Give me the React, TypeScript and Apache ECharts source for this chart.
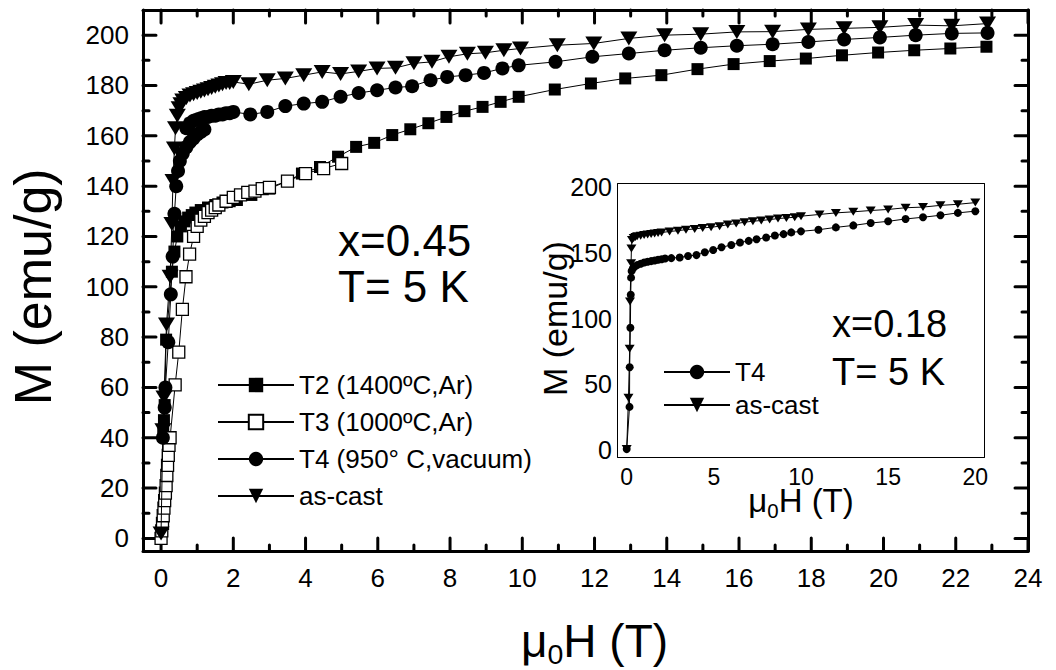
import React, { useEffect, useRef } from "react";
import * as echarts from "echarts";

// ---------- axis ranges & ticks ----------
const mainXRange = [-0.5, 24];
const mainYRange = [-5, 210];
const mainXTickRange = [0, 24];
const mainYTickRange = [0, 200];
const mainXInterval = 2;
const mainYInterval = 20;
const mainXMajor = [0, 2, 4, 6, 8, 10, 12, 14, 16, 18, 20, 22, 24];
const mainXMinor = [1, 3, 5, 7, 9, 11, 13, 15, 17, 19, 21, 23];
const mainYMajor = [0, 20, 40, 60, 80, 100, 120, 140, 160, 180, 200];
const mainYMinor = [10, 30, 50, 70, 90, 110, 130, 150, 170, 190];

const insetXRange = [-0.5, 20.5];
const insetYRange = [-5, 202];
const insetXTickRange = [0, 20];
const insetYTickRange = [0, 200];
const insetXInterval = 5;
const insetYInterval = 50;
const insetXMajor = [0, 5, 10, 15, 20];
const insetXMinor = [2.5, 7.5, 12.5, 17.5];
const insetYMajor = [0, 50, 100, 150, 200];
const insetYMinor = [25, 75, 125, 175];

// ---------- series names ----------
const mainNames = ["T2 (1400ºC,Ar)", "T3 (1000ºC,Ar)", "T4 (950° C,vacuum)", "as-cast"];
const insetNames = ["T4", "as-cast"];

// ---------- main plot data: [μ0H (T), M (emu/g)] ----------
const t2Data = [
  [0.06, 42], [0.08, 47], [0.1, 53], [0.14, 79], [0.3, 106], [0.37, 114], [0.45, 120],
  [0.55, 124], [0.65, 126], [0.75, 127.5], [0.85, 128.5], [0.95, 129.5], [1.1, 130.5],
  [1.3, 131.5], [1.5, 132.5], [1.7, 133.5], [1.9, 134], [2.1, 134.5], [2.5, 136.5],
  [3.0, 139], [3.5, 142], [3.9, 145], [4.4, 147.6], [4.9, 151.7], [5.4, 155.6],
  [5.9, 157.2], [6.4, 160.3], [6.9, 162.6], [7.4, 165], [7.9, 167.5], [8.4, 169.8],
  [8.9, 171.5], [9.4, 173.5], [9.9, 175.5], [10.9, 178.4], [11.9, 180.8], [12.85, 182.8],
  [13.85, 184.1], [14.85, 186.5], [15.85, 188.5], [16.85, 189.7], [17.85, 190.7],
  [18.85, 192], [19.85, 193.1], [20.85, 194], [21.85, 194.7], [22.85, 195.4],
];
const t3Data = [
  [0.0, 0], [0.02, 3], [0.04, 6], [0.06, 9], [0.08, 12], [0.1, 15], [0.12, 18], [0.14, 21],
  [0.16, 25], [0.18, 29], [0.2, 33], [0.22, 37], [0.25, 40], [0.39, 61], [0.49, 74],
  [0.59, 91], [0.69, 104], [0.79, 113], [0.9, 120], [1.0, 124], [1.1, 126.5], [1.2, 128],
  [1.3, 129.5], [1.4, 130.5], [1.5, 131.5], [1.6, 132.5], [1.8, 134], [2.0, 135.5],
  [2.2, 136.5], [2.4, 137.5], [2.6, 138], [2.8, 139], [3.0, 139.5], [3.5, 142], [4.0, 145],
  [4.5, 147], [5.0, 149],
];
const t4Data = [
  [0.05, 40], [0.1, 52], [0.12, 60], [0.2, 78], [0.27, 97], [0.32, 112], [0.37, 129],
  [0.42, 140], [0.47, 146], [0.52, 150], [0.6, 153], [0.7, 155.5], [0.8, 157.5], [0.9, 159],
  [1.0, 160.5], [1.1, 161.5], [1.2, 162.5], [0.7, 163], [0.8, 165], [0.9, 166], [1.0, 166.5],
  [1.1, 167], [1.2, 167.5], [1.3, 167.5], [1.4, 168], [1.5, 168], [1.6, 168.5], [1.7, 168.5],
  [1.8, 169], [1.9, 169], [2.0, 169.5], [2.47, 168.5], [2.94, 169.5], [3.44, 171.8],
  [3.95, 172.8], [4.46, 173.5], [4.97, 175.5], [5.47, 177], [5.98, 178.1], [6.49, 179.2],
  [6.95, 179.7], [7.46, 182.1], [7.92, 183.4], [8.43, 184.1], [8.94, 185], [9.45, 186.8],
  [9.9, 188], [10.92, 189.4], [11.94, 191.4], [12.95, 192.7], [13.94, 194], [14.94, 195],
  [15.94, 195.8], [16.93, 196.4], [17.92, 197.3], [18.91, 198.3], [19.9, 199.1],
  [20.89, 200], [21.89, 200.7], [22.88, 200.9],
];
const asCastData = [
  [0.0, 2], [0.05, 43], [0.08, 56], [0.15, 85], [0.25, 104], [0.3, 125], [0.33, 142],
  [0.37, 155], [0.4, 163], [0.45, 168], [0.5, 171], [0.55, 172.5], [0.6, 174], [0.7, 175],
  [0.8, 176], [0.9, 176.5], [1.0, 177], [1.1, 177.5], [1.2, 178], [1.3, 178.5], [1.4, 179],
  [1.5, 179.5], [1.6, 180], [1.7, 180.5], [1.8, 181], [1.9, 181], [2.0, 181.4],
  [2.43, 180.5], [2.94, 182.1], [3.44, 182.8], [3.95, 184.1], [4.46, 185.4], [4.97, 184.6],
  [5.47, 185.6], [5.98, 186.8], [6.49, 187], [7.0, 188.8], [7.5, 189.4], [7.97, 191.4],
  [8.48, 192.6], [8.98, 193], [9.49, 194], [9.95, 194.7], [10.97, 196], [11.98, 196.7],
  [12.95, 198.7], [13.94, 200], [14.94, 200.4], [15.94, 201.3], [16.93, 201.4],
  [17.92, 202.3], [18.91, 202.7], [19.9, 203.1], [20.89, 204], [21.89, 203.7], [22.88, 204.6],
];

// ---------- inset data (x = 0.18) ----------
const insetT4Data = [
  [0, 1], [0.16, 33], [0.17, 63], [0.21, 93], [0.23, 118], [0.25, 131], [0.28, 136],
  [0.35, 138], [0.45, 139.5], [0.6, 140.5], [0.8, 141.5], [1.0, 142.5], [1.2, 143],
  [1.4, 143.5], [1.6, 144], [1.8, 144.5], [2.0, 145], [2.2, 145.5], [2.56, 145.8],
  [3.04, 146.3], [3.52, 147.4], [4.0, 148.1], [4.48, 150.2], [4.96, 152], [5.44, 154],
  [6.0, 155.8], [6.5, 157.6], [7.0, 158.9], [7.45, 160.1], [8.0, 161.4], [8.5, 163],
  [9.0, 164], [9.44, 165.3], [10.0, 166.1], [11, 167.3], [12, 169.1], [13, 170.6],
  [14, 172.4], [15, 173.7], [16, 175.5], [17, 176.8], [18, 178.3], [19, 180.1], [20, 181.4],
];
const insetAsCastData = [
  [0, 1], [0.1, 40], [0.17, 77], [0.19, 113], [0.25, 142], [0.27, 153], [0.3, 159.5],
  [0.4, 161], [0.5, 161.8], [0.6, 162.3], [0.8, 162.8], [1.0, 163.3], [1.2, 163.7],
  [1.4, 164], [1.6, 164.4], [1.8, 164.8], [2.0, 165.2], [2.46, 166], [2.94, 166.6],
  [3.4, 167.4], [3.9, 167.9], [4.36, 168.7], [4.84, 169.2], [5.33, 170], [5.8, 171.2],
  [6.28, 172], [6.76, 173], [7.24, 173.8], [7.72, 174.3], [8.2, 175], [8.68, 175.8],
  [9.16, 176.3], [9.64, 176.8], [10, 177.6], [11.06, 178.9], [12, 180.1], [13, 180.9],
  [14, 181.9], [15, 182.7], [16, 184], [17, 184.5], [18, 185.8], [19, 186.6], [20, 187.9],
];

const FONT = "'Liberation Sans', Arial, Helvetica, sans-serif";
const DOWN_TRI = "path://M0,0L20,0L10,17Z";

type Box = { left: number; top: number; width: number; height: number };

function frameAxes(dim: "x" | "y", gridIndex: number, range: number[], lw: number) {
  const sides = dim === "x" ? ["bottom", "top"] : ["left", "right"];
  return sides.map((pos) => ({
    type: "value",
    gridIndex,
    position: pos,
    min: range[0],
    max: range[1],
    splitLine: { show: false },
    axisLine: { show: true, onZero: false, lineStyle: { color: "#000", width: lw } },
    axisTick: { show: false },
    axisLabel: { show: false },
  }));
}

function labelAxis(
  dim: "x" | "y", gridIndex: number, range: number[], interval: number, offset: number,
  labelSize: number, labelMargin: number, name: string, nameGap: number, nameStyle: any
) {
  return {
    type: "value",
    gridIndex,
    position: dim === "x" ? "bottom" : "left",
    offset,
    min: range[0],
    max: range[1],
    interval,
    splitLine: { show: false },
    axisLine: { show: false, onZero: false },
    axisTick: { show: false },
    minorTick: { show: false },
    axisLabel: { show: true, color: "#000", fontFamily: FONT, fontSize: labelSize, margin: labelMargin },
    name,
    nameLocation: "middle",
    nameGap,
    nameMoveOverlap: false,
    nameTextStyle: nameStyle,
  };
}

function tickBox(frame: Box, xr: number[], yr: number[], xt: number[], yt: number[]): Box {
  const sx = frame.width / (xr[1] - xr[0]);
  const sy = frame.height / (yr[1] - yr[0]);
  const left = frame.left + (xt[0] - xr[0]) * sx;
  const right = frame.left + (xt[1] - xr[0]) * sx;
  const bottom = frame.top + frame.height - (yt[0] - yr[0]) * sy;
  const top = frame.top + frame.height - (yt[1] - yr[0]) * sy;
  return { left, top, width: right - left, height: bottom - top };
}

// inward tick marks, drawn as broken line segments on the frame axes
function tickLines(
  idx: number, frame: Box, xr: number[], yr: number[],
  xMaj: number[], xMin: number[], yMaj: number[], yMin: number[],
  majPx: number, minPx: number, w: number
) {
  const ux = (xr[1] - xr[0]) / frame.width;
  const uy = (yr[1] - yr[0]) / frame.height;
  const data: any[] = [];
  const addX = (vals: number[], px: number) =>
    vals.forEach((v) => {
      data.push([v, yr[0]], [v, yr[0] + px * uy], [v, "-"]);
      data.push([v, yr[1]], [v, yr[1] - px * uy], [v, "-"]);
    });
  const addY = (vals: number[], px: number) =>
    vals.forEach((v) => {
      data.push([xr[0], v], [xr[0] + px * ux, v], [xr[0], "-"]);
      data.push([xr[1], v], [xr[1] - px * ux, v], [xr[1], "-"]);
    });
  addX(xMaj, majPx);
  addX(xMin, minPx);
  addY(yMaj, majPx);
  addY(yMin, minPx);
  return {
    type: "line",
    xAxisIndex: idx,
    yAxisIndex: idx,
    data,
    symbol: "none",
    showSymbol: false,
    connectNulls: false,
    silent: true,
    clip: false,
    z: 1,
    legendHoverLink: false,
    lineStyle: { color: "#000", width: w, cap: "round" },
    emphasis: { disabled: true },
  };
}

function muH(size: number) {
  return {
    color: "#000",
    fontFamily: FONT,
    rich: {
      m: { fontSize: size, fontFamily: FONT, color: "#000", lineHeight: size * 1.2 },
      s: {
        fontSize: size * 0.62, fontFamily: FONT, color: "#000", lineHeight: size * 1.2,
        padding: [size * 0.55, 0, 0, 0], verticalAlign: "bottom",
      },
    },
  };
}
const muHName = "{m|μ}{s|0}{m|H (T)}";

function lineSeries(name: string, data: number[][], idx: number, kind: string, size: any, z: number) {
  const filled = kind !== "open";
  return {
    type: "line",
    name,
    data,
    xAxisIndex: idx,
    yAxisIndex: idx,
    symbol: kind === "tri" ? DOWN_TRI : kind === "circle" ? "circle" : "rect",
    symbolSize: size,
    showSymbol: true,
    showAllSymbol: true,
    clip: true,
    z,
    lineStyle: { color: "#000", width: 1 },
    itemStyle: filled
      ? { color: "#000", borderColor: "#000", borderWidth: 0 }
      : { color: "#fff", borderColor: "#000", borderWidth: 1.3 },
    emphasis: { disabled: true },
  };
}

export default function App() {
  const ref = useRef<HTMLDivElement>(null);
  useEffect(() => {
    if (!ref.current) return;
    const chart = echarts.init(ref.current, undefined, { renderer: "svg" });

    const mainFrame: Box = { left: 143, top: 10, width: 885, height: 541 };
    const insetFrame: Box = { left: 618, top: 184, width: 366, height: 273 };
    const mainTick = tickBox(mainFrame, mainXRange, mainYRange, mainXTickRange, mainYTickRange);
    const insetTick = tickBox(insetFrame, insetXRange, insetYRange, insetXTickRange, insetYTickRange);
    const bOff = (f: Box, t: Box) => f.top + f.height - (t.top + t.height);
    const lOff = (f: Box, t: Box) => t.left - f.left;

    const xAxis = [
      ...frameAxes("x", 0, mainXRange, 3),
      labelAxis("x", 1, mainXTickRange, mainXInterval, bOff(mainFrame, mainTick), 26, 14, muHName, 62, muH(46)),
      ...frameAxes("x", 2, insetXRange, 2),
      labelAxis("x", 3, insetXTickRange, insetXInterval, bOff(insetFrame, insetTick), 23, 8, muHName, 24, muH(33)),
    ];
    const yAxis = [
      ...frameAxes("y", 0, mainYRange, 3),
      labelAxis("y", 1, mainYTickRange, mainYInterval, lOff(mainFrame, mainTick), 26, 14, "M (emu/g)", 84,
        { fontSize: 52, fontFamily: FONT, color: "#000" }),
      ...frameAxes("y", 2, insetYRange, 2),
      labelAxis("y", 3, insetYTickRange, insetYInterval, lOff(insetFrame, insetTick), 25, 6, "M (emu/g)", 46,
        { fontSize: 34, fontFamily: FONT, color: "#000" }),
    ];
    const MAIN = 0;
    const INSET = 3;

    const noBounds = { outerBoundsMode: "none", containLabel: false };
    const option: any = {
      animation: false,
      backgroundColor: "#fff",
      textStyle: { fontFamily: FONT },
      grid: [
        { ...mainFrame, show: false, ...noBounds },
        { ...mainTick, show: false, ...noBounds },
        { ...insetFrame, show: true, backgroundColor: "#fff", borderWidth: 0, z: 5, ...noBounds },
        { ...insetTick, show: false, ...noBounds },
      ],
      xAxis,
      yAxis,
      legend: [
        {
          orient: "vertical", left: 212, top: 366, itemWidth: 76, itemHeight: 18, itemGap: 9,
          selectedMode: false, data: mainNames,
          textStyle: { fontSize: 26, fontFamily: FONT, color: "#000", lineHeight: 28 },
        },
        {
          orient: "vertical", left: 658, top: 354, itemWidth: 66, itemHeight: 18, itemGap: 7,
          selectedMode: false, data: insetNames,
          textStyle: { fontSize: 26, fontFamily: FONT, color: "#000", lineHeight: 26 },
          z: 10,
        },
      ],
      series: [
        tickLines(MAIN, mainFrame, mainXRange, mainYRange, mainXMajor, mainXMinor, mainYMajor, mainYMinor, 13, 6, 3),
        tickLines(INSET, insetFrame, insetXRange, insetYRange, insetXMajor, insetXMinor, insetYMajor, insetYMinor, 6, 3, 1.5),
        lineSeries(mainNames[0], t2Data, MAIN, "square", 12, 2),
        lineSeries(mainNames[1], t3Data, MAIN, "open", 12, 3),
        lineSeries(mainNames[2], t4Data, MAIN, "circle", 14, 4),
        lineSeries(mainNames[3], asCastData, MAIN, "tri", [17, 14], 5),
        lineSeries(insetNames[0], insetT4Data, INSET, "circle", 8, 6),
        lineSeries(insetNames[1], insetAsCastData, INSET, "tri", [10, 8], 7),
      ],
      graphic: [
        {
          type: "text", left: 338, top: 217, z: 20,
          style: { text: "x=0.45\nT= 5 K", font: `44px ${FONT}`, lineHeight: 46, fill: "#000" },
        },
        {
          type: "text", left: 832, top: 300, z: 20,
          style: { text: "x=0.18\nT= 5 K", font: `38px ${FONT}`, lineHeight: 48, fill: "#000" },
        },
      ],
    };
    chart.setOption(option);
    return () => chart.dispose();
  }, []);
  return <div ref={ref} style={{ width: 1056, height: 670, position: "absolute", left: 0, top: 0 }} />;
}
